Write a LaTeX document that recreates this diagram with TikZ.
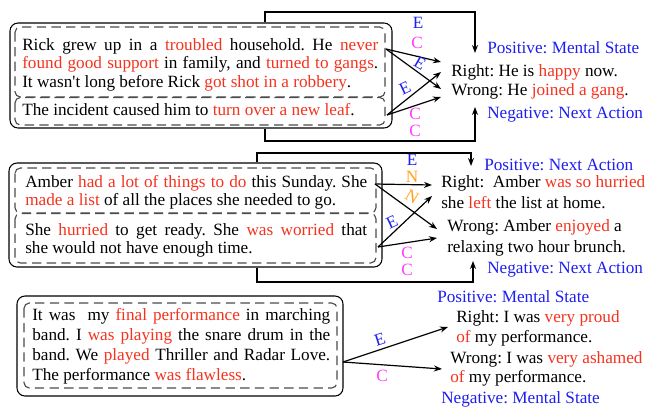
\documentclass[tikz,border=0pt]{standalone}
\usepackage{fontspec}
\setmainfont{Liberation Serif}
\usetikzlibrary{arrows.meta}
\definecolor{mred}{RGB}{245,50,30}
\definecolor{mblue}{RGB}{30,30,240}
\definecolor{mmag}{RGB}{255,60,255}
\definecolor{morange}{RGB}{255,160,30}
\newcommand{\Rd}[1]{\textcolor{mred}{#1}}
\frenchspacing
\begin{document}
\frenchspacing
\begin{tikzpicture}[x=0.75pt,y=-0.75pt,
  font=\fontsize{12.9}{14}\selectfont\frenchspacing,
  outerbox/.style={draw, line width=0.8pt, rounded corners=6pt, inner sep=0pt},
  dbox/.style={draw=black!70, dash pattern=on 7pt off 4pt, line width=0.85pt, rounded corners=4pt},
  story/.style={anchor=north west, inner sep=0pt, align=justify, text width=#1},
  lbl/.style={anchor=base west, inner sep=0pt},
  blbl/.style={anchor=base west, inner sep=0pt, text=mblue},
  rel/.style={inner sep=0pt, font=\fontsize{12.9}{14}\selectfont},
  arr/.style={-{Stealth[length=6pt,width=4.5pt]}, line width=0.9pt},
  brk/.style={-{Stealth[length=6pt,width=4.5pt]}, line width=0.9pt}
]
\useasboundingbox (0,0) rectangle (650,408);

% ---------------- Panel 1 ----------------
\node[outerbox, minimum width=286.5pt, minimum height=78.75pt] (b1) at (201,75.5) {};
\draw[dbox] (15,27) rectangle (385,97);
\draw[dbox] (15,97.5) rectangle (385,125);
\node[story=267pt] (s1a) at (22,36.9) {\strut Rick grew up in a \Rd{troubled} household. He \Rd{never}\linebreak \Rd{found good support} in family, and \Rd{turned to gangs}.\linebreak It wasn\textquotesingle t long before Rick \Rd{got shot in a robbery}.};
\node[story=267pt] (s1b) at (22,101.9) {\strut The incident caused him to \Rd{turn over a new leaf}.};

\node[blbl] (p1) at (487,53) {Positive: Mental State};
\node[lbl] (r1) at (451,76) {Right: He is \Rd{happy} now.};
\node[lbl] (w1) at (451,95) {Wrong: He \Rd{joined a gang}.};
\node[blbl] (n1) at (487,118) {Negative: Next Action};

\coordinate (a1t) at (386,49);
\coordinate (a1b) at (387,115);
\coordinate (r1a) at (441,62);
\coordinate (r1b) at (441,72);
\coordinate (w1a) at (441,89);
\coordinate (w1b) at (441,97);
\draw[arr] (a1t) -- (r1a);
\draw[arr] (a1t) -- (w1a);
\draw[arr] (a1b) -- (r1b);
\draw[arr] (a1b) -- (w1b);

\node[rel, text=mblue] (e1a) at (418,23) {E};
\node[rel, text=mmag] (c1a) at (417,43) {C};
\node[rel, text=mblue, rotate=-30] (e1b) at (420,63) {E};
\node[rel, text=mblue, rotate=25] (e1c) at (405,88) {E};
\node[rel, text=mmag] (c1b) at (415,114) {C};
\node[rel, text=mmag] (c1c) at (415,131) {C};

\coordinate (t1e) at (475,53);
\coordinate (u1e) at (475,107);
\draw[brk] (b1.north -| 265,0) -- (265,12) -| (t1e);
\draw[brk] (b1.south -| 265,0) -- (265,141) -| (u1e);

% ---------------- Panel 2 ----------------
\node[outerbox, minimum width=279.75pt, minimum height=78pt] (b2) at (195.5,215) {};
\draw[dbox] (15,168) rectangle (376,213);
\draw[dbox] (15,213.5) rectangle (376,263);
\node[story=256.5pt] (s2a) at (25,173.9) {\strut Amber \Rd{had a lot of things to do} this Sunday. She\linebreak \Rd{made a list} of all the places she needed to go.};
\node[story=256.5pt] (s2b) at (25,221.9) {\strut She \Rd{hurried} to get ready. She \Rd{was worried} that\linebreak she would not have enough time.};

\node[blbl] (p2) at (484,170) {Positive: Next Action};
\node[lbl] (r2) at (441,187) {Right:\ \ Amber \Rd{was so hurried}};
\node[lbl] (r2b) at (441,208) {she \Rd{left} the list at home.};
\node[lbl] (w2) at (447,231) {Wrong: Amber \Rd{enjoyed} a};
\node[lbl] (w2b) at (447,252) {relaxing two hour brunch.};
\node[blbl] (n2) at (487,273) {Negative: Next Action};

\coordinate (a2t) at (375,184);
\coordinate (a2b) at (378,247);
\coordinate (r2e1) at (432,185);
\coordinate (r2e2) at (432,196);
\coordinate (w2e1) at (437,229);
\coordinate (w2e2) at (437,238);
\draw[arr] (a2t) -- (r2e1);
\draw[arr] (a2t) -- (w2e1);
\draw[arr] (a2b) -- (r2e2);
\draw[arr] (a2b) -- (w2e2);

\node[rel, text=mblue] (e2a) at (412,160) {E};
\node[rel, text=morange] (n2a) at (412,177) {N};
\node[rel, text=morange, rotate=-30] (n2b) at (412,197) {N};
\node[rel, text=mblue, rotate=25] (e2b) at (392,222) {E};
\node[rel, text=mmag] (c2a) at (407,253) {C};
\node[rel, text=mmag] (c2b) at (407,270) {C};

\coordinate (t2e) at (471,166);
\coordinate (u2e) at (473,261);
\draw[brk] (b2.north -| 257,0) -- (257,153) -| (t2e);
\draw[brk] (b2.south -| 257,0) -- (257,282) -| (u2e);

% ---------------- Panel 3 ----------------
\node[outerbox, minimum width=244.5pt, minimum height=75pt] (b3) at (180,346) {};
\draw[dbox] (24,303) rectangle (337,388);
\node[story=223.5pt, font=\fontsize{12.9}{15}\selectfont\frenchspacing] (s3) at (32,306) {\strut It was\ \ my \Rd{final performance} in marching\linebreak band. I \Rd{was playing} the snare drum in the\linebreak band. We \Rd{played} Thriller and Radar Love.\linebreak The performance \Rd{was flawless}.};

\node[blbl] (p3) at (437,302) {Positive: Mental State};
\node[lbl] (r3) at (456,322) {Right: I was \Rd{very proud}};
\node[lbl] (r3b) at (456,342) {\Rd{of} my performance.};
\node[lbl] (w3) at (450,363) {Wrong: I was \Rd{very ashamed}};
\node[lbl] (w3b) at (450,382) {\Rd{of} my performance.};
\node[blbl] (n3) at (441,403) {Negative: Mental State};

\coordinate (a3) at (343,362);
\coordinate (r3e) at (448,327);
\coordinate (w3e) at (442,369);
\draw[arr] (a3) -- (r3e);
\draw[arr] (a3) -- (w3e);
\node[rel, text=mblue, rotate=18] (e3) at (380,340) {E};
\node[rel, text=mmag] (c3) at (382,376) {C};
\end{tikzpicture}
\end{document}
